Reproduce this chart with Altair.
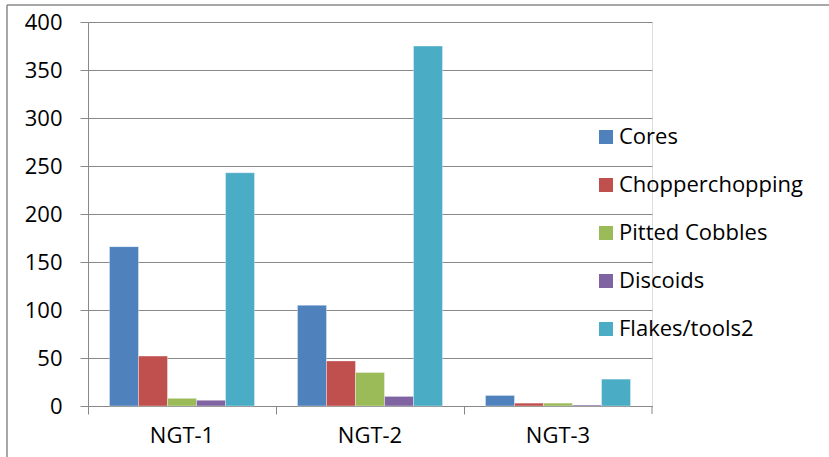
import altair as alt
import pandas as pd

sites = ["NGT-1", "NGT-2", "NGT-3"]
types = ["Cores", "Chopperchopping", "Pitted Cobbles", "Discoids", "Flakes/tools2"]
colors = ["#4F81BD", "#C0504D", "#9BBB59", "#8064A2", "#4BACC6"]

cores = [166, 105, 11]
chopper = [52, 47, 3]
pitted = [8, 35, 3]
discoids = [6, 10, 1]
flakes = [243, 375, 28]

rows = []
for name, vals in zip(types, [cores, chopper, pitted, discoids, flakes]):
    for site, v in zip(sites, vals):
        rows.append({"site": site, "type": name, "count": v})
df = pd.DataFrame(rows)

FONT = "Open Sans"
FS = 22
GRID = "#888888"
W, H = 564, 384

bars = alt.Chart(df).mark_bar(
    stroke="white", strokeWidth=0.6, strokeOpacity=0.6
).encode(
    x=alt.X("site:N", sort=sites, title=None,
            scale=alt.Scale(paddingInner=0, paddingOuter=0),
            axis=alt.Axis(bandPosition=0, labelAngle=0, labelFontSize=FS,
                          labelFont=FONT, labelColor="black", labelPadding=11,
                          tickSize=8, tickColor=GRID, domainColor=GRID,
                          grid=False)),
    xOffset=alt.XOffset("type:N", sort=types,
                        scale=alt.Scale(paddingInner=0, paddingOuter=0.74)),
    y=alt.Y("count:Q", title=None,
            scale=alt.Scale(domain=[0, 400], nice=False),
            axis=alt.Axis(values=list(range(0, 401, 50)), tickSize=8,
                          tickColor=GRID, domainColor=GRID, gridColor=GRID,
                          gridOpacity=1, labelFontSize=FS, labelFont=FONT,
                          labelColor="black", labelPadding=18)),
    color=alt.Color("type:N", sort=types,
                    scale=alt.Scale(domain=types, range=colors),
                    legend=alt.Legend(orient="none", legendX=507, legendY=104,
                                      title=None, symbolType="square",
                                      symbolSize=196, symbolStrokeWidth=0,
                                      labelFontSize=FS, labelFont=FONT,
                                      labelColor="black", rowPadding=26,
                                      labelLimit=300,
                                      symbolOffset=0, labelOffset=2)),
)

# closing tick at the right end of the category axis
end_tick = alt.Chart(pd.DataFrame({"k": [0]})).mark_rule(
    color=GRID, strokeWidth=1
).encode(x=alt.value(W), y=alt.value(H), y2=alt.value(H + 8))

# outer chart frame (top and left edges)
frame_top = alt.Chart(pd.DataFrame({"k": [0]})).mark_rule(
    color="#8a8a8a", strokeWidth=1.5
).encode(x=alt.value(-81), x2=alt.value(W + 177), y=alt.value(-17))
frame_left = alt.Chart(pd.DataFrame({"k": [0]})).mark_rule(
    color="#8a8a8a", strokeWidth=1.5
).encode(x=alt.value(-81), y=alt.value(-17), y2=alt.value(H + 51))

chart = alt.layer(bars, end_tick, frame_top, frame_left).properties(
    width=W, height=H,
    padding={"left": 88, "top": 22, "right": 177, "bottom": 51},
    autosize=alt.AutoSizeParams(type="none"),
).configure_view(stroke=None).configure(background="white")

chart.save("out.html", embed_options={"renderer": "svg", "actions": False})
